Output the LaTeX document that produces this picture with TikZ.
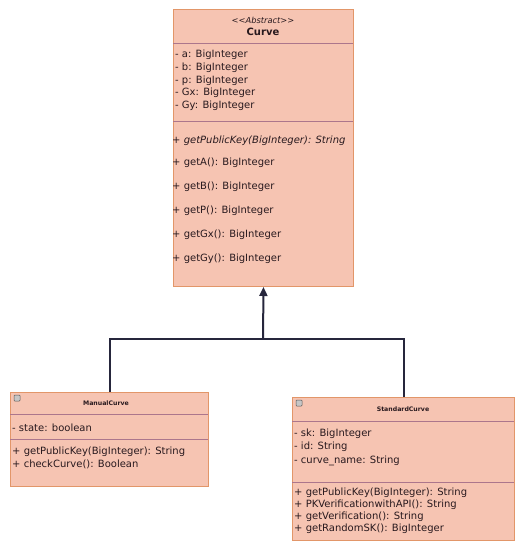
\documentclass[tikz,border=0pt]{standalone}
\usepackage{fontspec}
\setmainfont{DejaVu Sans}
\usetikzlibrary{arrows.meta}
\definecolor{clsfill}{RGB}{246,196,178}
\definecolor{clsdraw}{RGB}{226,150,105}
\definecolor{divline}{RGB}{172,118,140}
\definecolor{conn}{RGB}{38,38,60}
\definecolor{txt}{RGB}{40,25,30}
\tikzset{
  cls/.style={draw=clsdraw, fill=clsfill, line width=1pt, rectangle, inner sep=0pt, anchor=north west},
  divider/.style={draw=divline, line width=0.8pt},
  member/.style={anchor=west, inner sep=0pt, text=txt, font=\fontsize{10}{12}\selectfont},
  smalltitle/.style={inner sep=0pt, text=txt, font=\fontsize{6.2}{7}\selectfont\bfseries},
  icon/.style={draw=gray!70!black, fill=gray!45, rounded corners=0.8pt, minimum width=6pt, minimum height=6pt, inner sep=0pt, line width=0.5pt},
  gen/.style={draw=conn, line width=2pt},
}
\begin{document}
\begin{tikzpicture}[x=1pt, y=-1pt]
\useasboundingbox (0,0) rectangle (519,546);
% Curve
\node[cls, minimum width=180pt, minimum height=277pt] (curve) at (173,9) {};
\draw[divider] (173,43) -- (353,43);
\draw[divider] (173,121) -- (353,121);
\node[inner sep=0pt, text=txt, font=\fontsize{8.3}{9}\selectfont\itshape] (cst) at (263,20) {<{}<Abstract>{}>};
\node[inner sep=0pt, text=txt, font=\fontsize{10}{12}\selectfont\bfseries] (cname) at (263,32) {Curve};
\node[member] (ca1) at (175,55) {- a: BigInteger};
\node[member] (ca2) at (175,68) {- b: BigInteger};
\node[member] (ca3) at (175,81) {- p: BigInteger};
\node[member] (ca4) at (175,93) {- Gx: BigInteger};
\node[member] (ca5) at (175,106) {- Gy: BigInteger};
\node[member, font=\fontsize{10}{12}\selectfont\itshape] (cm1) at (172,141) {+ getPublicKey(BigInteger): String};
\node[member] (cm2) at (172,163) {+ getA(): BigInteger};
\node[member] (cm3) at (172,187) {+ getB(): BigInteger};
\node[member] (cm4) at (172,211) {+ getP(): BigInteger};
\node[member] (cm5) at (172,235) {+ getGx(): BigInteger};
\node[member] (cm6) at (172,259) {+ getGy(): BigInteger};
% ManualCurve
\node[cls, minimum width=198pt, minimum height=94pt] (manual) at (10,392) {};
\draw[divider] (10,414) -- (208,414);
\draw[divider] (10,439) -- (208,439);
\node[icon] (micon) at (17,398) {};
\node[smalltitle] (mname) at (106,403) {ManualCurve};
\node[member] (ma1) at (12,428) {- state: boolean};
\node[member] (mm1) at (12,452) {+ getPublicKey(BigInteger): String};
\node[member] (mm2) at (12,464) {+ checkCurve(): Boolean};
% StandardCurve
\node[cls, minimum width=222pt, minimum height=143pt] (standard) at (292,397) {};
\draw[divider] (292,421) -- (514,421);
\draw[divider] (292,482) -- (514,482);
\node[icon] (sicon) at (299,403) {};
\node[smalltitle] (sname) at (403,409) {StandardCurve};
\node[member] (sa1) at (294,434) {- sk: BigInteger};
\node[member] (sa2) at (294,447) {- id: String};
\node[member] (sa3) at (294,461) {- curve\_name: String};
\node[member] (sm1) at (294,493) {+ getPublicKey(BigInteger): String};
\node[member] (sm2) at (294,505) {+ PKVerificationwithAPI(): String};
\node[member] (sm3) at (294,517) {+ getVerification(): String};
\node[member] (sm4) at (294,529) {+ getRandomSK(): BigInteger};
% generalization
\coordinate (j) at (263,339);
\draw[gen] (manual.north) |- (j);
\draw[gen] (standard.north) |- (j);
\draw[gen, -{Triangle[width=8pt,length=9pt]}, fill=conn] (j) -- (curve.south);
\end{tikzpicture}
\end{document}
